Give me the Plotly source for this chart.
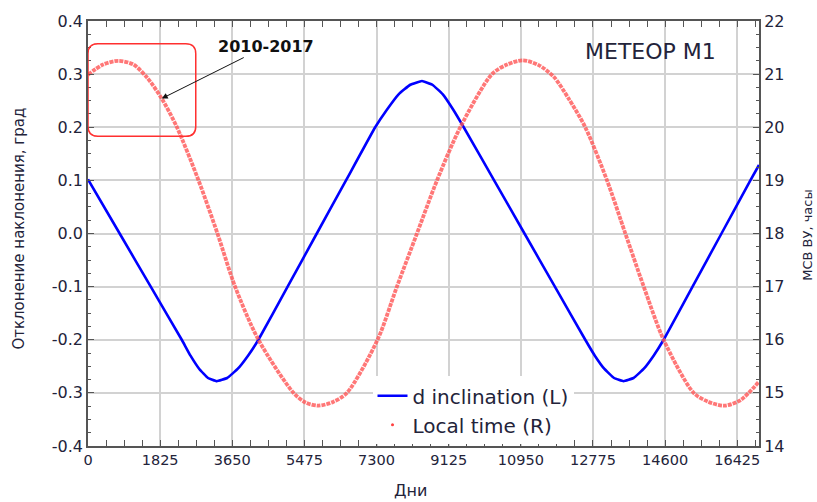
import plotly.graph_objects as go

# --- Data -------------------------------------------------------------
# Inclination deviation (left axis, degrees) vs. days
incl_days = [0, 801, 1587, 2372, 2593, 2815, 3036, 3258, 3521, 3785, 4048, 4311,
             5050, 5788, 6527, 7265, 7561, 7857, 8153, 8449, 8713, 8977, 9241,
             9505, 10274, 11042, 11811, 12580, 12822, 13065, 13307, 13549, 13802,
             14056, 14309, 14562, 15294, 16026, 16757, 16975]
incl_vals = [0.102, 0.0, -0.1, -0.2, -0.230, -0.255, -0.272, -0.278, -0.272,
             -0.255, -0.230, -0.2, -0.1, 0.0, 0.1, 0.2, 0.233, 0.262, 0.280,
             0.287, 0.280, 0.262, 0.233, 0.2, 0.1, 0.0, -0.1, -0.2, -0.230,
             -0.255, -0.272, -0.278, -0.272, -0.255, -0.230, -0.2, -0.1, 0.0,
             0.1, 0.129]

# Local time of the ascending node (right axis, hours) vs. days
lt_days = [0, 380, 767, 1150, 1500, 1865, 2250, 2796, 3275, 3721, 4311, 5200, 5500,
           5829, 6200, 6550, 7325, 7815, 8322, 8829, 9418, 10220, 10600, 11000,
           11400, 11782, 12150, 12580, 13130, 13594, 14059, 14562, 15322, 15700,
           16105, 16500, 16975]
lt_vals = [20.99, 21.18, 21.25, 21.18, 20.93, 20.54, 20.0, 19.0, 18.0, 17.0, 16.0,
           15.0, 14.82, 14.76, 14.83, 15.0, 16.0, 17.0, 18.0, 19.0, 20.0, 21.0,
           21.18, 21.26, 21.17, 20.95, 20.55, 20.0, 19.0, 18.0, 17.0, 16.0, 15.0,
           14.83, 14.76, 14.86, 15.21]

x_ticks = [0, 1825, 3650, 5475, 7300, 9125, 10950, 12775, 14600, 16425]
left_ticks = [-0.4, -0.3, -0.2, -0.1, 0.0, 0.1, 0.2, 0.3, 0.4]
left_labels = ["-0.4", "-0.3", "-0.2", "-0.1", "0.0", "0.1", "0.2", "0.3", "0.4"]
right_ticks = [14, 15, 16, 17, 18, 19, 20, 21, 22]

# --- Styling ------------------------------------------------------------
FONT = "DejaVu Sans"
TXT = "#23233a"
GRID = "#d2d2d2"
AXLINE = "#555555"
X_MAX = 16975

fig = go.Figure()

fig.add_trace(go.Scatter(
    x=incl_days, y=incl_vals, name="d inclination (L)", mode="lines",
    line=dict(color="#0000ff", width=2.6, shape="spline", smoothing=0.3),
    yaxis="y",
))
fig.add_trace(go.Scatter(
    x=lt_days, y=lt_vals, name="Local time (R)", mode="lines",
    line=dict(color="rgba(255,85,85,0.8)", width=3.8, shape="spline",
              smoothing=0.8, dash="4px,1px"),
    yaxis="y2", showlegend=False, legendgroup="lt",
))
# legend entry for the local-time series (drawn as a small dot)
fig.add_trace(go.Scatter(
    x=[None], y=[None], name="Local time (R)", mode="markers",
    marker=dict(color="#ff4040", size=3), yaxis="y2", legendgroup="lt",
))

# rounded frame around the 2010-2017 interval
x0, x1, y0, y1 = 0, 2726, 0.183, 0.357
rx, ry = 253, 0.0186
frame_path = (
    f"M {x0+rx},{y1} L {x1-rx},{y1} Q {x1},{y1} {x1},{y1-ry} "
    f"L {x1},{y0+ry} Q {x1},{y0} {x1-rx},{y0} "
    f"L {x0+rx},{y0} Q {x0},{y0} {x0},{y0+ry} "
    f"L {x0},{y1-ry} Q {x0},{y1} {x0+rx},{y1} Z"
)
fig.add_shape(type="path", path=frame_path, xref="x", yref="y",
              line=dict(color="#ff3030", width=1.5))

ann = [
    dict(x=1865, y=20.54, xref="x", yref="y2", text="<b>2010-2017</b>",
         showarrow=True, ax=104, ay=-52, arrowhead=2, arrowsize=1.2,
         arrowwidth=1, arrowcolor="#111111",
         font=dict(family=FONT, size=16, color="#111111")),
    dict(x=0.839, y=0.9286, xref="paper", yref="paper", text="МЕТЕОР М1",
         showarrow=False, xanchor="center", yanchor="middle",
         font=dict(family=FONT, size=22, color=TXT)),
    dict(x=-0.1028, y=0.5116, xref="paper", yref="paper",
         text="Отклонение наклонения, град", textangle=-90, showarrow=False,
         xanchor="center", yanchor="middle",
         font=dict(family=FONT, size=15, color=TXT)),
    dict(x=1.072, y=0.4977, xref="paper", yref="paper", text="МСВ ВУ, часы",
         textangle=-90, showarrow=False, xanchor="center", yanchor="middle",
         font=dict(family=FONT, size=13, color=TXT)),
    dict(x=0.48, y=-0.1047, xref="paper", yref="paper", text="Дни",
         showarrow=False, xanchor="center", yanchor="middle",
         font=dict(family=FONT, size=16, color=TXT)),
]

fig.update_layout(
    width=817, height=502,
    margin=dict(l=88, r=58, t=16, b=56),
    paper_bgcolor="white", plot_bgcolor="white",
    font=dict(family=FONT, color=TXT),
    annotations=ann,
    showlegend=True,
    legend=dict(x=0.424, y=0.004, xanchor="left", yanchor="bottom",
                bgcolor="white", borderwidth=0,
                font=dict(family=FONT, size=20, color=TXT),
                tracegroupgap=0, itemwidth=30),
    xaxis=dict(
        range=[0, X_MAX], tickmode="array", tickvals=x_ticks,
        ticktext=[str(v) for v in x_ticks],
        showgrid=True, gridcolor=GRID, gridwidth=1.5,
        showline=True, linecolor=AXLINE, linewidth=1.5, mirror="allticks",
        ticks="inside", ticklen=6, tickcolor=AXLINE,
        tickfont=dict(family=FONT, size=14.5, color=TXT),
        minor=dict(tickmode="linear", tick0=0, dtick=456.25, ticks="inside",
                   ticklen=3, tickcolor=AXLINE, showgrid=False),
        zeroline=False,
    ),
    yaxis=dict(
        range=[-0.4, 0.4], tickmode="array", tickvals=left_ticks,
        ticktext=left_labels,
        showgrid=True, gridcolor=GRID, gridwidth=1.5,
        showline=True, linecolor=AXLINE, linewidth=1.5,
        ticks="inside", ticklen=6, tickcolor=AXLINE,
        tickfont=dict(family=FONT, size=16, color=TXT),
        minor=dict(tickmode="linear", tick0=0, dtick=0.025, ticks="inside",
                   ticklen=3, tickcolor=AXLINE, showgrid=False),
        zeroline=False,
    ),
    yaxis2=dict(
        range=[14, 22], overlaying="y", side="right",
        tickmode="array", tickvals=right_ticks,
        ticktext=[str(v) for v in right_ticks],
        showgrid=False, showline=True, linecolor=AXLINE, linewidth=2,
        ticks="inside", ticklen=6, tickcolor=AXLINE,
        tickfont=dict(family=FONT, size=16, color=TXT),
        minor=dict(tickmode="linear", tick0=14, dtick=0.25, ticks="inside",
                   ticklen=3, tickcolor=AXLINE, showgrid=False),
        zeroline=False,
    ),
)

fig.write_html("out.html")
